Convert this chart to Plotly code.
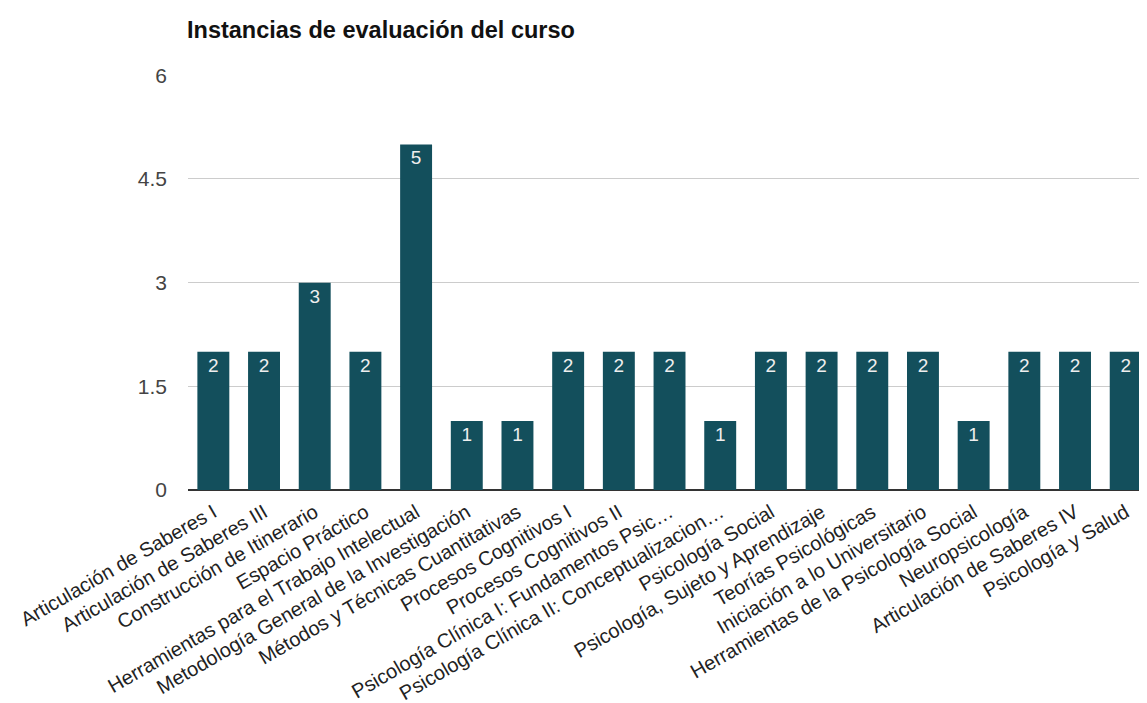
import plotly.graph_objects as go

categories = [
    "Articulación de Saberes I",
    "Articulación de Saberes III",
    "Construcción de Itinerario",
    "Espacio Práctico",
    "Herramientas para el Trabajo Intelectual",
    "Metodología General de la Investigación",
    "Métodos y Técnicas Cuantitativas",
    "Procesos Cognitivos I",
    "Procesos Cognitivos II",
    "Psicología Clínica I: Fundamentos Psic…",
    "Psicología Clínica II: Conceptualizacion…",
    "Psicología Social",
    "Psicología, Sujeto y Aprendizaje",
    "Teorías Psicológicas",
    "Iniciación a lo Universitario",
    "Herramientas de la Psicología Social",
    "Neuropsicología",
    "Articulación de Saberes IV",
    "Psicología y Salud",
]
values = [2, 2, 3, 2, 5, 1, 1, 2, 2, 2, 1, 2, 2, 2, 2, 1, 2, 2, 2]
y_ticks = [0, 1.5, 3, 4.5, 6]
y_tick_labels = ["0", "1.5", "3", "4.5", "6"]

FONT = "Liberation Sans, Arial, sans-serif"
W, H = 1139, 695

fig = go.Figure(
    go.Bar(
        x=list(range(len(categories))),
        y=values,
        marker=dict(color="#134f5c", line=dict(width=0)),
        text=[str(v) for v in values],
        textposition="inside",
        insidetextanchor="end",
        textangle=0,
        textfont=dict(family=FONT, size=19, color="#eeeeee"),
        hoverinfo="x+y",
    )
)

fig.update_layout(
    width=W,
    height=H,
    paper_bgcolor="white",
    plot_bgcolor="white",
    margin=dict(l=180, r=0, t=67, b=213),
    bargap=0.37,
    showlegend=False,
    uniformtext=dict(minsize=19, mode="show"),
    title=dict(
        text="<b>Instancias de evaluación del curso</b>",
        font=dict(family=FONT, size=23.5, color="#111111"),
        x=179 / W,
        xanchor="left",
        xref="container",
        y=1 - 22 / H,
        yanchor="middle",
        yref="container",
    ),
    font=dict(family=FONT),
)

fig.update_xaxes(
    tickmode="array",
    tickvals=list(range(len(categories))),
    ticktext=categories,
    tickangle=-30,
    tickfont=dict(size=20, color="#222222"),
    range=[-0.5, 18.42],
    showgrid=False,
    showline=False,
    zeroline=False,
    ticks="",
    ticklabelstandoff=6,
)

fig.update_yaxes(
    range=[0, 6.004],
    tickmode="array",
    tickvals=y_ticks,
    ticktext=y_tick_labels,
    tickfont=dict(size=21, color="#444444"),
    showgrid=True,
    gridcolor="#cccccc",
    gridwidth=1,
    zeroline=True,
    zerolinecolor="#333333",
    zerolinewidth=1.5,
    showline=False,
    ticks="",
    ticklabelstandoff=20,
)

fig.write_html("out.html")
